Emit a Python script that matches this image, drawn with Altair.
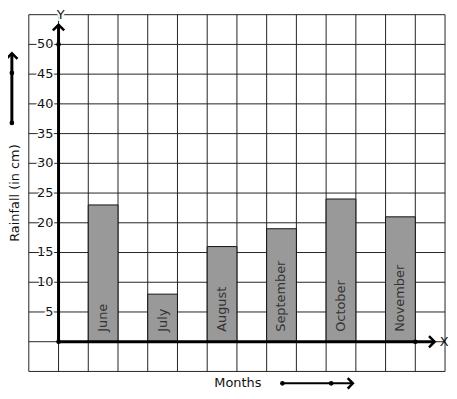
import altair as alt
import pandas as pd

months = ["June", "July", "August", "September", "October", "November"]
rainfall = [23, 8, 16, 19, 24, 21]
y_ticks = [5, 10, 15, 20, 25, 30, 35, 40, 45, 50]
x_grid = list(range(-1, 14))
y_grid = list(range(-5, 56, 5))

FONT = "DejaVu Sans"

bars_df = pd.DataFrame({
    "month": months,
    "rain": rainfall,
    "x0": [2 * i + 1 for i in range(len(months))],
})
bars_df["x1"] = bars_df["x0"] + 1
bars_df["xc"] = bars_df["x0"] + 0.5
bars_df["base"] = 0
bars_df["lab_y"] = 1.67

xs = alt.Scale(domain=[-1, 13], nice=False, zero=False)
ys = alt.Scale(domain=[-5, 55], nice=False, zero=False)


def X(f):
    return alt.X(f, scale=xs, axis=None)


def Y(f):
    return alt.Y(f, scale=ys, axis=None)


vgrid = alt.Chart(pd.DataFrame({"x": x_grid, "lo": -5, "hi": 55})).mark_rule(
    color="#222", strokeWidth=1
).encode(x=X("x:Q"), y=Y("lo:Q"), y2="hi:Q")
hgrid = alt.Chart(pd.DataFrame({"y": y_grid, "lo": -1, "hi": 13})).mark_rule(
    color="#222", strokeWidth=1
).encode(y=Y("y:Q"), x=X("lo:Q"), x2="hi:Q")

bars = alt.Chart(bars_df).mark_bar(color="#999999", stroke="#111", strokeWidth=1).encode(
    x=X("x0:Q"), x2="x1:Q", y=Y("rain:Q"), y2="base:Q",
)

bar_labels = alt.Chart(bars_df).mark_text(
    angle=270, align="left", baseline="middle", font=FONT, fontSize=13, color="#333"
).encode(x=X("xc:Q"), y=Y("lab_y:Q"), text="month:N")

tick_df = pd.DataFrame({"v": y_ticks, "x": [-0.17] * len(y_ticks)})
tick_halo = alt.Chart(tick_df).mark_text(
    align="right", baseline="middle", font=FONT, fontSize=13, stroke="white", strokeWidth=3, color="white"
).encode(x=X("x:Q"), y=Y("v:Q"), text="v:Q")
tick_text = alt.Chart(tick_df).mark_text(
    align="right", baseline="middle", font=FONT, fontSize=13, color="#111"
).encode(x=X("x:Q"), y=Y("v:Q"), text="v:Q")

# axis lines and arrows
lines_df = pd.DataFrame({
    "x": [0, 0, -1.57, 7.53],
    "x2": [12.65, 0, -1.57, 9.9],
    "y": [0, 0, 36.8, -7],
    "y2": [0, 53.3, 48.5, -7],
    "w": [3, 3, 3, 2],
})
axis_lines = alt.Chart(lines_df).mark_rule(color="black", strokeCap="butt").encode(
    x=X("x:Q"), x2="x2:Q", y=Y("y:Q"), y2="y2:Q",
    strokeWidth=alt.StrokeWidth("w:Q", scale=None),
)

dots_df = pd.DataFrame({
    "x": [0, 0, 12, -1.57, -1.57, 7.53, 9.17],
    "y": [0, 50, 0, 36.8, 45.2, -7, -7],
})
dots = alt.Chart(dots_df).mark_point(filled=True, color="black", size=22, opacity=1).encode(
    x=X("x:Q"), y=Y("y:Q")
)

up_df = pd.DataFrame({"x": [0, -1.57], "y": [53.3, 48.5]})
up_heads = alt.Chart(up_df).mark_point(
    shape="M-1,1L0,0L1,1", filled=False, stroke="black", strokeWidth=2.5, size=130, opacity=1
).encode(x=X("x:Q"), y=Y("y:Q"))

right_df = pd.DataFrame({"x": [12.65, 9.9], "y": [0, -7], "s": [130, 110]})
right_heads = alt.Chart(right_df).mark_point(
    shape="M-1,-1L0,0L-1,1", filled=False, stroke="black", strokeWidth=2.5, opacity=1
).encode(x=X("x:Q"), y=Y("y:Q"), size=alt.Size("s:Q", scale=None))

labels_df = pd.DataFrame({
    "t": ["X", "Months"],
    "x": [12.97, 6.03],
    "y": [0, -7],
})
labels = alt.Chart(labels_df).mark_text(
    align="center", baseline="middle", font=FONT, fontSize=13, color="#111"
).encode(x=X("x:Q"), y=Y("y:Q"), text="t:N")

ylab_df = pd.DataFrame({"t": ["Y"], "x": [0.07], "y": [55.0]})
ylab_halo = alt.Chart(ylab_df).mark_text(
    align="center", baseline="middle", font=FONT, fontSize=13, stroke="white", strokeWidth=4, color="white"
).encode(x=X("x:Q"), y=Y("y:Q"), text="t:N")
ylab = alt.Chart(ylab_df).mark_text(
    align="center", baseline="middle", font=FONT, fontSize=13, color="#111"
).encode(x=X("x:Q"), y=Y("y:Q"), text="t:N")

rain_df = pd.DataFrame({"t": ["Rainfall (in cm)"], "x": [-1.47], "y": [25]})
rain_lab = alt.Chart(rain_df).mark_text(
    angle=270, align="center", baseline="middle", font=FONT, fontSize=13, color="#111"
).encode(x=X("x:Q"), y=Y("y:Q"), text="t:N")

chart = alt.layer(
    vgrid, hgrid, bars, bar_labels, tick_halo, tick_text, axis_lines, dots, up_heads, right_heads,
    labels, ylab_halo, ylab, rain_lab,
).properties(
    width=420, height=360,
    autosize=alt.AutoSizeParams(type="none"),
    padding={"left": 21, "top": 5, "right": 4, "bottom": 18},
).configure_view(stroke=None)

chart.save("out.html", embed_options={"renderer": "svg", "actions": False})
